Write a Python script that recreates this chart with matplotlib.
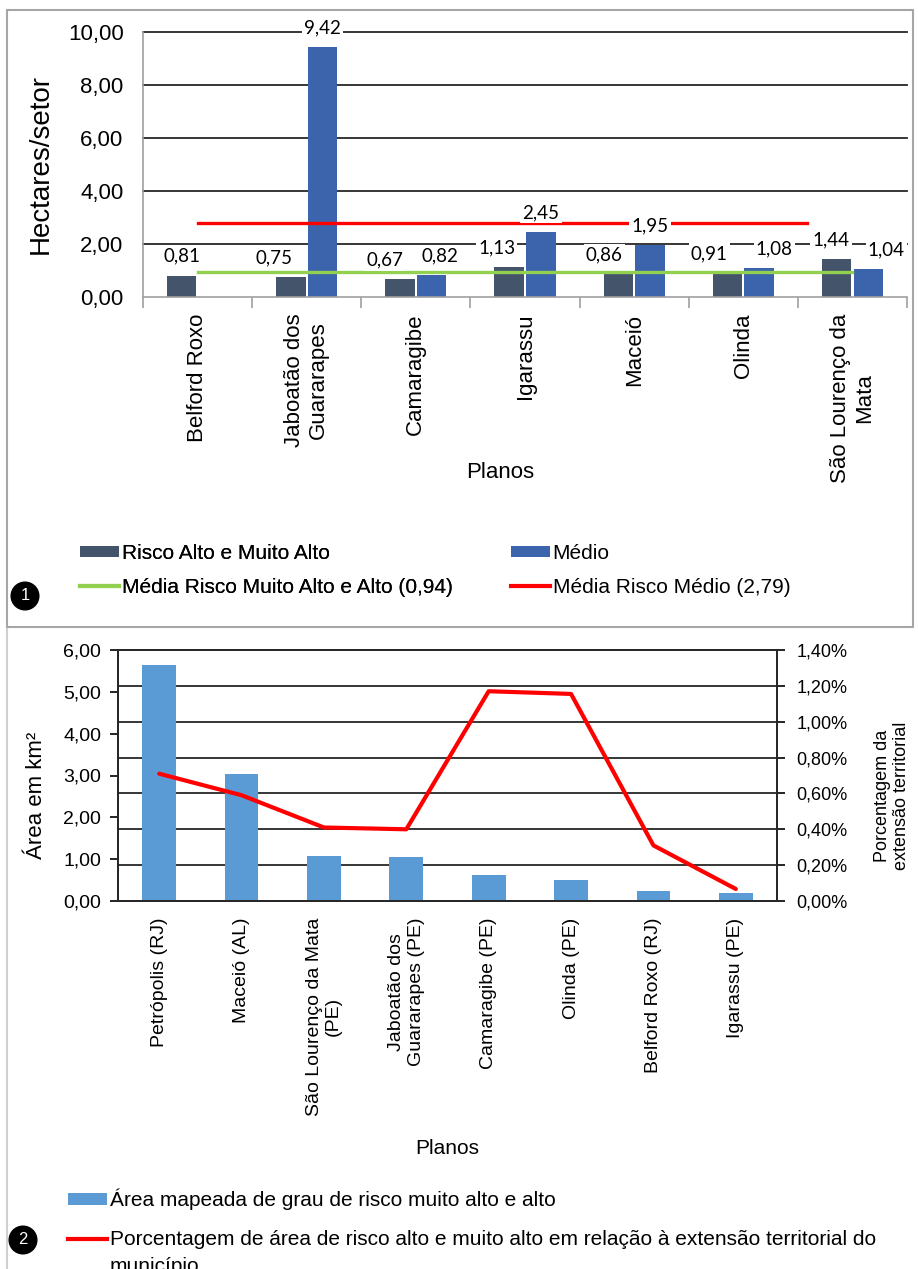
import matplotlib
matplotlib.use("Agg")
import matplotlib.pyplot as plt
import numpy as np
from matplotlib.patches import Patch, Rectangle
from matplotlib.lines import Line2D

plt.rcParams['font.family'] = ['Liberation Sans', 'DejaVu Sans']

## dados grafico 1 - hectares por setor
planos1 = ['Belford Roxo', 'Jaboatão dos\nGuararapes', 'Camaragibe', 'Igarassu',
           'Maceió', 'Olinda', 'São Lourenço da\nMata']
risco_alto = [0.81, 0.75, 0.67, 1.13, 0.86, 0.91, 1.44]
risco_medio = [np.nan, 9.42, 0.82, 2.45, 1.95, 1.08, 1.04]
media_alto = 0.94
media_medio = 2.79

## dados grafico 2 - area mapeada
planos2 = ['Petrópolis (RJ)', 'Maceió (AL)', 'São Lourenço da Mata\n(PE)',
           'Jaboatão dos\nGuararapes (PE)', 'Camaragibe (PE)', 'Olinda (PE)',
           'Belford Roxo (RJ)', 'Igarassu (PE)']
area_km2 = [5.65, 3.03, 1.08, 1.05, 0.61, 0.50, 0.25, 0.20]
pct_territorio = [0.71, 0.59, 0.41, 0.40, 1.17, 1.155, 0.31, 0.067]  # em %

W, H = 918, 1269
fig = plt.figure(figsize=(W / 100, H / 100), dpi=100)


def fx(px):
    return px / W


def fy(py):
    return 1 - py / H


def virgula(v, fmt='{:.2f}'):
    return fmt.format(v).replace('.', ',')


##grafica 1
ax1 = fig.add_axes([fx(143), fy(297), (907 - 143) / W, (297 - 32) / H])
x1 = np.arange(len(planos1))
ax1.bar(x1 - 0.145, risco_alto, 0.27, color='#44546a', zorder=2)
ax1.bar(x1 + 0.145, risco_medio, 0.27, color='#3c64ad', zorder=2)
ax1.plot([0, 6], [media_alto, media_alto], color='#92d050', lw=2.4, zorder=3)
ax1.plot([0, 5.58], [media_medio, media_medio], color='#ff0000', lw=2.4, zorder=3)

# rotulos afastados (pontos) para nao se sobreporem
afasta_alto = [0, -12, -11, -9, -10, -13, -4]
afasta_medio = [0, 0, 6, 0, 0, 11, 13]
for serie, desl, afasta in ((risco_alto, -0.145, afasta_alto),
                            (risco_medio, 0.145, afasta_medio)):
    for xi, v, dx in zip(x1, serie, afasta):
        if np.isnan(v):
            continue
        ax1.annotate(virgula(v), (xi + desl, v), xytext=(dx, 14),
                     textcoords='offset points', ha='center', va='center',
                     fontsize=13.5, family=['Lato', 'DejaVu Sans'], zorder=5,
                     bbox=dict(boxstyle='square,pad=0.12', fc='white', ec='none'))

ax1.set_xlim(-0.5, 6.5)
ax1.set_ylim(0, 10)
yt = np.arange(0, 10.01, 2)
for y in yt[1:]:
    ax1.axhline(y, color='#262626', lw=1.3, zorder=1, clip_on=False)
ax1.set_yticks(yt)
ax1.set_yticklabels([virgula(v) for v in yt], fontsize=16)
ax1.tick_params(axis='y', length=0, pad=14)
ax1.set_xticks(x1)
ax1.set_xticklabels(planos1, rotation=90, fontsize=16, va='top', ha='center',
                    multialignment='center')
ax1.set_xticks(np.arange(-0.5, 7, 1), minor=True)
ax1.tick_params(axis='x', which='major', length=0, pad=12)
ax1.tick_params(axis='x', which='minor', length=8, color='#a0a0a0', width=1.2)
for s in ('top', 'right'):
    ax1.spines[s].set_visible(False)
for s in ('left', 'bottom'):
    ax1.spines[s].set_color('#a0a0a0')
    ax1.spines[s].set_linewidth(1.2)
ax1.set_ylabel('Hectares/setor', fontsize=20)
ax1.yaxis.set_label_coords(-0.117, 0.5)
fig.text(fx(500), fy(472), 'Planos', ha='center', va='center', fontsize=16)

leg1 = fig.legend(handles=[Patch(fc='#44546a'), Line2D([], [], color='#92d050', lw=3)],
                  labels=['Risco Alto e Muito Alto', 'Média Risco Muito Alto e Alto (0,94)'],
                  loc='center left', bbox_to_anchor=(fx(80), fy(570.5)), frameon=False,
                  fontsize=15, handlelength=1.85, handleheight=0.45, handletextpad=0.15,
                  labelspacing=0.7, borderpad=0, borderaxespad=0)
leg2 = fig.legend(handles=[Patch(fc='#3c64ad'), Line2D([], [], color='#ff0000', lw=3)],
                  labels=['Médio', 'Média Risco Médio (2,79)'],
                  loc='center left', bbox_to_anchor=(fx(511), fy(570.5)), frameon=False,
                  fontsize=15, handlelength=1.85, handleheight=0.45, handletextpad=0.15,
                  labelspacing=0.7, borderpad=0, borderaxespad=0)
fig.add_artist(leg1)

fig.add_artist(Rectangle((fx(7), fy(627)), (913 - 7) / W, (627 - 10) / H,
                         transform=fig.transFigure, fill=False, ec='#a6a6a6', lw=1.5))
fig.add_artist(Line2D([fx(7), fx(7)], [fy(629), 0], transform=fig.transFigure,
                      color='#d0d0d0', lw=1.5))

##grafica 2
ax2 = fig.add_axes([fx(118), fy(901), (777 - 118) / W, (901 - 650) / H])
x2 = np.arange(len(planos2))
ax2.bar(x2, area_km2, 0.41, color='#5b9bd5', zorder=2)
ax2.set_xlim(-0.5, 7.5)
ax2.set_ylim(0, 6)
yt2 = np.arange(0, 6.01, 1)
ax2.set_yticks(yt2)
ax2.set_yticklabels([virgula(v) for v in yt2], fontsize=14)
ax2.set_yticks(np.arange(8) * 6 / 7, minor=True)
ax2.yaxis.grid(True, which='minor', color='#262626', lw=1.3)
ax2.set_axisbelow(True)
ax2.tick_params(axis='y', which='major', length=6, width=1.2, pad=6)
ax2.tick_params(axis='y', which='minor', length=0)
ax2.set_xticks(x2)
ax2.set_xticklabels(planos2, rotation=90, fontsize=14, va='top', ha='center',
                    multialignment='center')
ax2.tick_params(axis='x', length=0, pad=12)
for s in ax2.spines.values():
    s.set_color('#262626')
    s.set_linewidth(1.3)
ax2.set_ylabel('Área em km²', fontsize=16)
ax2.yaxis.set_label_coords(-0.107, 0.42)

ax3 = ax2.twinx()
ax3.plot(x2, pct_territorio, color='#ff0000', lw=3, solid_joinstyle='round',
         solid_capstyle='round', zorder=3)
ax3.set_ylim(0, 1.4)
yt3 = np.arange(0, 1.41, 0.2)
ax3.set_yticks(yt3)
ax3.set_yticklabels([virgula(v) + '%' for v in yt3], fontsize=13)
ax3.tick_params(axis='y', length=6, width=1.2, pad=8)
for s in ax3.spines.values():
    s.set_color('#262626')
    s.set_linewidth(1.3)
ax3.set_ylabel('Porcentagem da\nextensão territorial', fontsize=13, rotation=90)
ax3.yaxis.set_label_coords(1.147, 0.42)

fig.text(fx(447), fy(1148), 'Planos', ha='center', va='center', fontsize=15)

fig.legend(handles=[Patch(fc='#5b9bd5'), Line2D([], [], color='#ff0000', lw=3)],
           labels=['Área mapeada de grau de risco muito alto e alto',
                   'Porcentagem de área de risco alto e muito alto em relação à extensão territorial do'],
           loc='center left', bbox_to_anchor=(fx(68), fy(1219)), frameon=False,
           fontsize=15, handlelength=1.85, handleheight=0.45, handletextpad=0.15,
           labelspacing=0.95, borderpad=0, borderaxespad=0)
fig.text(fx(110), fy(1266), 'município', ha='left', va='center', fontsize=15)

# numeros dos paineis
for num, cx, cy in (('1', 25, 596), ('2', 23, 1240)):
    fig.text(fx(cx), fy(cy), num, ha='center', va='center', color='white',
             fontsize=12, bbox=dict(boxstyle='circle,pad=0.38', fc='black', ec='black'))

fig.savefig('out.png', dpi=100)
##fin grafica
